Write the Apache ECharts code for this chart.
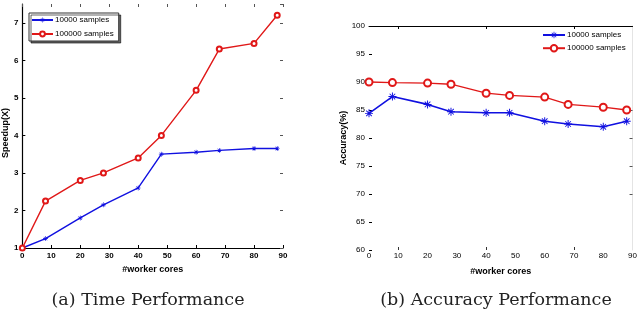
<!DOCTYPE html>
<html><head><meta charset="utf-8">
<script src="https://cdn.jsdelivr.net/npm/echarts@6/dist/echarts.min.js"></script>
<style>html,body{margin:0;padding:0;background:#fff}#c{width:640px;height:310px}</style>
</head><body><div id="c"></div>
<script>
var cores = [0, 8, 20, 28, 40, 48, 60, 68, 80, 88];
var speedup10k = [1, 1.25, 1.8, 2.15, 2.6, 3.5, 3.55, 3.6, 3.65, 3.65];
var speedup100k = [1, 2.25, 2.8, 3.0, 3.4, 4.0, 5.2, 6.3, 6.45, 7.2];
var acc10k = [84.4, 87.4, 86.0, 84.7, 84.5, 84.5, 83.0, 82.5, 82.0, 83.0];
var acc100k = [90.0, 89.9, 89.8, 89.6, 88.0, 87.6, 87.3, 86.0, 85.5, 85.0];
var seriesNames = ['10000 samples', '100000 samples'];
var xTicks = [0, 10, 20, 30, 40, 50, 60, 70, 80, 90];
var captions = ['(a) Time Performance', '(b) Accuracy Performance'];

function pairs(xs, ys){ return xs.map(function(x,i){ return [x, ys[i]]; }); }
var BLUE = '#1010e0', RED = '#e01818';
var star = 'path://M-0.6,-5L0.6,-5L0.6,5L-0.6,5Z M-5,-0.6L5,-0.6L5,0.6L-5,0.6Z M-3.9,-3.1L-3.1,-3.9L3.9,3.1L3.1,3.9Z M3.1,-3.9L3.9,-3.1L-3.1,3.9L-3.9,3.1Z';
var lab = {color:'#000', fontSize:8, fontWeight:'bold', fontFamily:'Liberation Sans, Arial'};
var nameStyle = {color:'#000', fontSize:9, fontWeight:'bold', fontFamily:'Liberation Sans, Arial'};

var chart = echarts.init(document.getElementById('c'), null, {renderer:'canvas'});
chart.setOption({
  animation:false,
  grid:[
    {left:20, top:4, width:263, height:244},
    {left:369, top:26, width:264, height:224}
  ],
  xAxis:[
    {gridIndex:0, type:'value', min:0, max:90, interval:10, position:'bottom',
     name:'#worker cores', nameLocation:'middle', nameGap:16, nameTextStyle:nameStyle,
     axisLine:{onZero:false, lineStyle:{color:'#000', width:1.2}}, axisTick:{inside:true, length:3, lineStyle:{color:'#000'}},
     axisLabel:{margin:4, ...lab}, splitLine:{show:false}},
    {gridIndex:0, type:'value', min:0, max:90, interval:10, position:'top',
     axisLine:{show:false, onZero:false}, axisTick:{inside:true, length:3, lineStyle:{color:'#555'}},
     axisLabel:{show:false}, splitLine:{show:false}},
    {gridIndex:1, type:'value', min:0, max:90, interval:10, position:'bottom',
     name:'#worker cores', nameLocation:'middle', nameGap:17, nameTextStyle:nameStyle,
     axisLine:{show:false, onZero:false}, axisTick:{inside:true, length:3, customValues:[10,40,70], lineStyle:{color:'#333'}},
     axisLabel:{margin:2, ...lab, fontWeight:'normal'}, splitLine:{show:false}},
    {gridIndex:1, type:'value', min:0, max:90, interval:10, position:'top',
     axisLine:{onZero:false, lineStyle:{color:'#000', width:1}}, axisTick:{inside:true, length:3, customValues:[10,40,70], lineStyle:{color:'#000'}},
     axisLabel:{show:false}, splitLine:{show:false}}
  ],
  yAxis:[
    {gridIndex:0, type:'value', min:1, max:7.5, interval:1, position:'left',
     name:'Speedup(X)', nameLocation:'middle', nameGap:11, nameTextStyle:Object.assign({}, nameStyle, {padding:[0,0,0,-14]}),
     axisLine:{onZero:false, lineStyle:{color:'#000', width:1.2}}, axisTick:{inside:true, length:3, lineStyle:{color:'#000'}},
     axisLabel:{margin:4, showMaxLabel:false, ...lab}, splitLine:{show:false}},
    {gridIndex:0, type:'value', min:1, max:7.5, interval:1, position:'right',
     axisLine:{show:false, onZero:false}, axisTick:{inside:true, length:3, lineStyle:{color:'#555'}},
     axisLabel:{show:false}, splitLine:{show:false}},
    {gridIndex:1, type:'value', min:60, max:100, interval:5, position:'left',
     name:'Accuracy(%)', nameLocation:'middle', nameGap:20, nameTextStyle:nameStyle,
     axisLine:{show:false, onZero:false}, axisTick:{inside:true, length:3, lineStyle:{color:'#000'}},
     axisLabel:{margin:4, ...lab, fontWeight:'normal'}, splitLine:{show:false}},
    {gridIndex:1, type:'value', min:60, max:100, interval:5, position:'right',
     axisLine:{onZero:false, lineStyle:{color:'#e4e4e4'}}, axisTick:{inside:true, length:3, customValues:[70,75,80,85], lineStyle:{color:'#555'}},
     axisLabel:{show:false}, splitLine:{show:false}}
  ],
  legend:[
    {data:[seriesNames[0], seriesNames[1]].map(function(n){return {name:n};}), orient:'vertical', left:29, top:13,
     itemWidth:21, itemHeight:6, itemGap:6, padding:[3,5,3,2], borderColor:'#333', borderWidth:1,
     backgroundColor:'#fff', shadowColor:'rgba(0,0,0,0.6)', shadowOffsetX:2, shadowOffsetY:2,
     textStyle:{color:'#000', fontSize:8, fontFamily:'Liberation Sans, Arial', padding:[0,0,0,-3]},
     selectedMode:false},
    {data:[{name:seriesNames[0]+' '}, {name:seriesNames[1]+' '}], orient:'vertical', left:542, top:31,
     itemWidth:22, itemHeight:8, itemGap:5, padding:[0,0,0,0],
     backgroundColor:'#fff',
     textStyle:{color:'#000', fontSize:8, fontFamily:'Liberation Sans, Arial', padding:[0,0,0,-3]},
     selectedMode:false}
  ],
  series:[
    {name:seriesNames[0], type:'line', xAxisIndex:0, yAxisIndex:0, data:pairs(cores, speedup10k),
     symbol:star, symbolSize:5, color:BLUE, lineStyle:{color:BLUE, width:1.4}, itemStyle:{color:BLUE}},
    {name:seriesNames[1], type:'line', xAxisIndex:0, yAxisIndex:0, data:pairs(cores, speedup100k),
     symbol:'emptyCircle', symbolSize:5, color:RED, lineStyle:{color:RED, width:1.4}, itemStyle:{color:RED, borderWidth:1}},
    {name:seriesNames[0]+' ', type:'line', xAxisIndex:2, yAxisIndex:2, data:pairs(cores, acc10k),
     symbol:star, symbolSize:8, color:BLUE, lineStyle:{color:BLUE, width:1.6}, itemStyle:{color:BLUE}},
    {name:seriesNames[1]+' ', type:'line', xAxisIndex:2, yAxisIndex:2, data:pairs(cores, acc100k),
     symbol:'emptyCircle', symbolSize:7, color:RED, lineStyle:{color:RED, width:1.3}, itemStyle:{color:RED, borderWidth:1}}
  ],
  graphic:[
    {type:'text', x:148, y:300, style:{text:captions[0], font:'17.5px "DejaVu Serif", serif', fill:'#222', textAlign:'center', textVerticalAlign:'middle'}},
    {type:'text', x:496, y:300, style:{text:captions[1], font:'17.5px "DejaVu Serif", serif', fill:'#222', textAlign:'center', textVerticalAlign:'middle'}}
  ]
});
</script></body></html>
